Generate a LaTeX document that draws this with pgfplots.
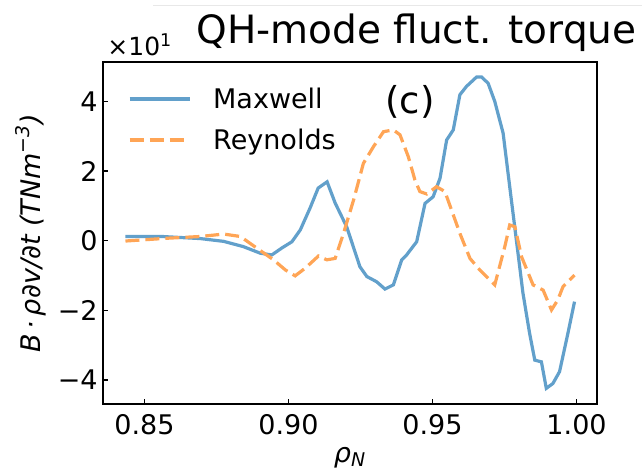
\documentclass[border=0pt]{standalone}
\usepackage{pgfplots}
\pgfplotsset{compat=1.18}
\usepackage{fontspec}
\setmainfont{DejaVu Sans}
\definecolor{mblue}{RGB}{98,160,203}
\definecolor{morange}{RGB}{255,165,86}
\begin{document}
\begin{tikzpicture}
\useasboundingbox (0pt,0pt) rectangle (321pt,234pt);
\draw[black!9, line width=0.5pt] (76.5pt,231.5pt) -- (321pt,231.5pt);
\begin{axis}[
  at={(51.5pt,32pt)}, anchor=south west,
  scale only axis, width=247pt, height=171pt,
  xmin=0.8356, xmax=1.0071, ymin=-4.69, ymax=5.13,
  xtick={0.85,0.90,0.95,1.00}, xticklabels={0.85,0.90,0.95,1.00},
  ytick={-4,-2,0,2,4}, yticklabels={−4,−2,0,2,4},
  tick align=inside, xtick pos=left, ytick pos=left,
  major tick length=2.5pt,
  tick style={black, line width=0.8pt},
  axis line style={line width=1.1pt},
  ticklabel style={font=\fontsize{13.5}{16}\selectfont},
  xticklabel style={inner sep=0pt, yshift=-5pt},
  yticklabel style={inner sep=0pt, xshift=-2.5pt},
  xlabel={\itshape ρ\textsubscript{\itshape N}},
  xlabel style={font=\fontsize{13.5}{16}\selectfont, at={(axis description cs:0.5,0)}, anchor=base, yshift=-29pt},
  ylabel={\itshape B\,·\,ρ∂v/∂t (TNm\textsuperscript{−3})},
  ylabel style={font=\fontsize{13.5}{16}\selectfont, at={(axis description cs:-0.1275,0.5)}, anchor=base},
  legend style={draw=none, fill=none, at={(axis description cs:0.0506,0.9181)}, anchor=north west,
    inner sep=0pt, outer sep=0pt, row sep=11.5pt, column sep=11pt,
    font=\fontsize{13.5}{16}\selectfont,
    nodes={inner sep=0pt, text height=9pt, text depth=0pt},
    cells={anchor=west}},
  legend image code/.code={\draw[#1] (0pt,0pt) -- (30pt,0pt);},
]
\addplot[mblue, line width=1.6pt] coordinates {
(0.8434,0.12) (0.8560,0.12) (0.8694,0.06) (0.8775,-0.02) (0.8843,-0.17)
(0.8902,-0.36) (0.8942,-0.41) (0.8977,-0.21) (0.9012,-0.03) (0.9041,0.31)
(0.9075,0.94) (0.9103,1.51) (0.9134,1.69) (0.9162,1.08) (0.9202,0.40)
(0.9248,-0.75) (0.9272,-1.03) (0.9306,-1.18) (0.9335,-1.39) (0.9364,-1.27)
(0.9393,-0.55) (0.9410,-0.41) (0.9445,-0.03) (0.9474,1.07) (0.9502,1.26)
(0.9526,1.79) (0.9549,2.89) (0.9572,3.18) (0.9595,4.19) (0.9618,4.43)
(0.9653,4.70) (0.9670,4.70) (0.9693,4.52) (0.9716,4.00) (0.9745,3.09)
(0.9768,1.55) (0.9791,0.02) (0.9814,-1.51) (0.9837,-2.66) (0.9855,-3.43)
(0.9878,-3.48) (0.9895,-4.24) (0.9918,-4.10) (0.9941,-3.76) (0.9970,-2.66)
(0.9993,-1.75)
};
\addlegendentry{Maxwell}
\addplot[morange, line width=1.6pt, dash pattern=on 7pt off 3pt] coordinates {
(0.8434,-0.01) (0.8579,0.07) (0.8694,0.12) (0.8775,0.19) (0.8833,0.12)
(0.8891,-0.22) (0.8948,-0.55) (0.8989,-0.84) (0.9023,-1.01) (0.9058,-0.79)
(0.9104,-0.44) (0.9133,-0.55) (0.9162,-0.51) (0.9191,0.21) (0.9226,1.17)
(0.9260,2.22) (0.9295,2.70) (0.9330,3.13) (0.9364,3.18) (0.9387,3.04)
(0.9416,2.41) (0.9439,1.74) (0.9456,1.41) (0.9480,1.34) (0.9514,1.55)
(0.9543,1.41) (0.9566,0.88) (0.9595,0.21) (0.9630,-0.51) (0.9664,-0.84)
(0.9716,-1.27) (0.9751,-0.17) (0.9768,0.45) (0.9786,0.40) (0.9809,-0.46)
(0.9849,-1.27) (0.9884,-1.42) (0.9913,-1.99) (0.9935,-1.70) (0.9953,-1.32)
(0.9993,-0.99)
};
\addlegendentry{Reynolds}
\end{axis}
\node[anchor=base west, inner sep=0pt, font=\fontsize{19.5}{23}\selectfont] at (98pt,212.5pt) {QH-mode fluct. torque};
\node[anchor=base west, inner sep=0pt, font=\fontsize{12.5}{15}\selectfont] at (53.5pt,206.5pt) {×10\textsuperscript{1}};
\node[anchor=base west, inner sep=0pt, font=\fontsize{18.5}{22}\selectfont] at (192.5pt,177.5pt) {(c)};
\end{tikzpicture}
\end{document}
